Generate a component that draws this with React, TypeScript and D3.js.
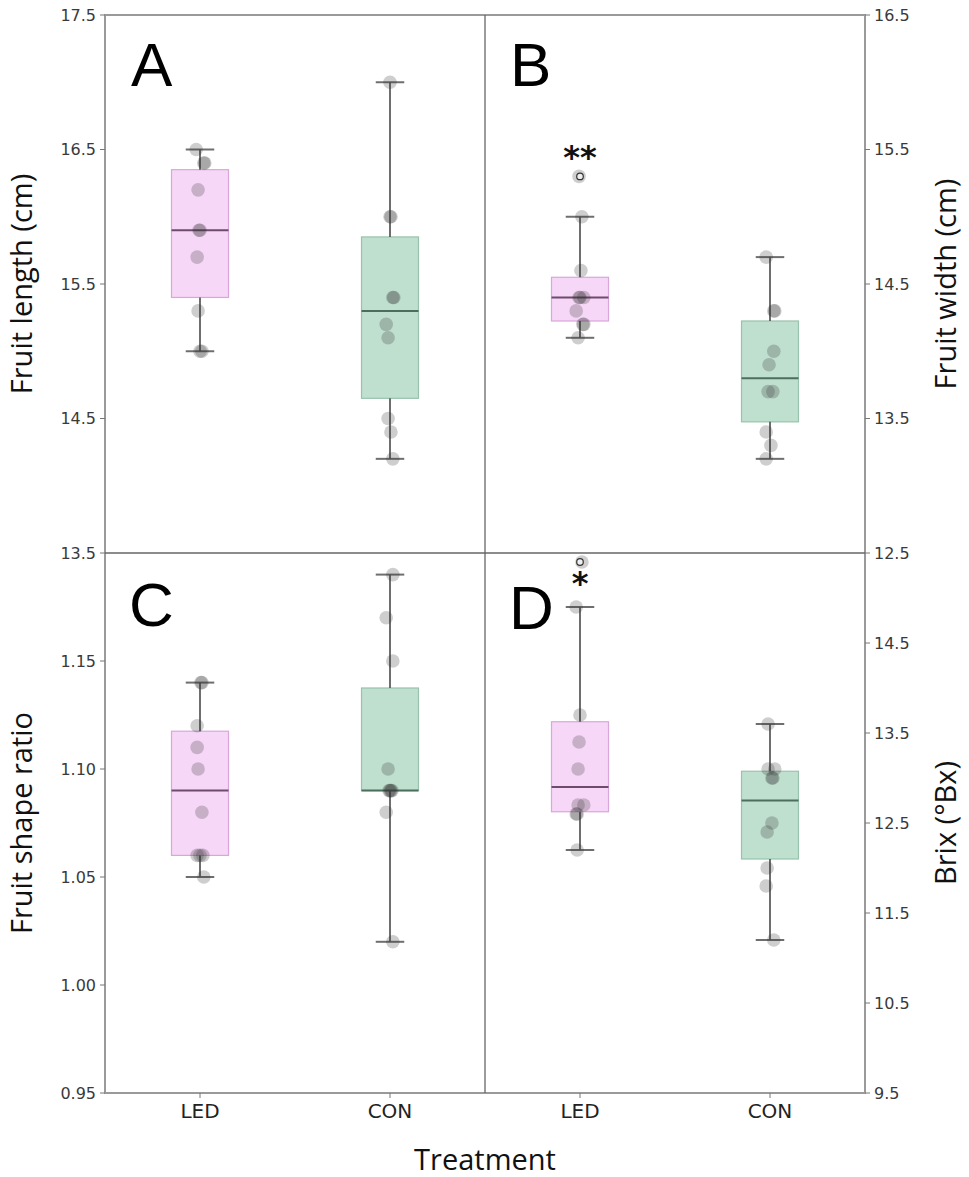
import React from "react";
import * as d3 from "d3";

// ---------- data ----------
const categories = ["LED", "CON"];

const lengthLED = [15.0, 15.0, 15.3, 15.7, 15.9, 15.9, 16.2, 16.4, 16.4, 16.5];
const lengthCON = [14.2, 14.4, 14.5, 15.1, 15.2, 15.4, 15.4, 16.0, 16.0, 17.0];
const widthLED = [14.1, 14.2, 14.2, 14.3, 14.4, 14.4, 14.4, 14.6, 15.0, 15.3];
const widthCON = [13.2, 13.3, 13.4, 13.7, 13.7, 13.9, 14.0, 14.3, 14.3, 14.7];
const shapeLED = [1.05, 1.06, 1.06, 1.06, 1.08, 1.10, 1.11, 1.12, 1.14, 1.14];
const shapeCON = [1.02, 1.08, 1.09, 1.09, 1.09, 1.09, 1.10, 1.15, 1.17, 1.19];
const brixLED = [12.2, 12.6, 12.6, 12.7, 12.7, 13.1, 13.4, 13.7, 14.9, 15.4];
const brixCON = [11.2, 11.8, 12.0, 12.4, 12.5, 13.0, 13.0, 13.1, 13.1, 13.6];

// strip-plot jitter (category units)
const jitLengthLED = [0, 0.01, -0.01, -0.015, 0, -0.005, -0.01, 0.02, 0.025, -0.02];
const jitLengthCON = [0.015, 0.005, -0.01, -0.01, -0.02, 0.015, 0.02, 0, 0.005, 0];
const jitWidthLED = [-0.01, 0.015, 0.02, -0.02, 0, 0.02, -0.005, 0.005, 0.01, -0.005];
const jitWidthCON = [-0.02, 0.005, -0.02, -0.01, 0.015, -0.005, 0.02, 0.02, 0.025, -0.02];
const jitShapeLED = [0.02, -0.015, 0, 0.015, 0.01, -0.01, -0.015, -0.015, 0.005, 0.01];
const jitShapeCON = [0.015, -0.02, 0, 0.005, -0.005, 0.01, -0.01, 0.015, -0.02, 0.015];
const jitBrixLED = [-0.015, -0.02, -0.015, -0.01, 0.02, -0.01, -0.005, 0, -0.02, 0.01];
const jitBrixCON = [0.02, -0.02, -0.015, -0.015, 0.01, 0.01, 0.015, -0.01, 0.025, -0.01];

const ticksLength = [13.5, 14.5, 15.5, 16.5, 17.5];
const ticksWidth = [12.5, 13.5, 14.5, 15.5, 16.5];
const ticksShape = [0.95, 1.0, 1.05, 1.1, 1.15, 1.2];
const ticksBrix = [9.5, 10.5, 11.5, 12.5, 13.5, 14.5, 15.5];

const panelLetters = ["A", "B", "C", "D"];
const signifB = "**";
const signifD = "*";

// ---------- layout ----------
const W = 969;
const H = 1177;
const L = 105, R = 865, MX = 485, T = 15, MY = 553, B = 1093;

const fills = ["#f7d7f7", "#bfdfcf"];
const edges = ["#d9a6d9", "#98c2ad"];
const medians = ["#6e4a6e", "#4d6e5e"];

type Stats = { q1: number; med: number; q3: number; lo: number; hi: number; fliers: number[] };
function stats(v: number[]): Stats {
  const s = [...v].sort((a, b) => a - b);
  const q1 = d3.quantile(s, 0.25)!;
  const med = d3.quantile(s, 0.5)!;
  const q3 = d3.quantile(s, 0.75)!;
  const iqr = q3 - q1;
  const inside = s.filter((d) => d >= q1 - 1.5 * iqr - 1e-9 && d <= q3 + 1.5 * iqr + 1e-9);
  return {
    q1, med, q3,
    lo: d3.min(inside)!, hi: d3.max(inside)!,
    fliers: s.filter((d) => !inside.includes(d)),
  };
}

type PanelProps = {
  x: d3.ScaleLinear<number, number>;
  y: d3.ScaleLinear<number, number>;
  series: number[][];
  jitters: number[][];
};

function Panel({ x, y, series, jitters }: PanelProps) {
  const bw = 0.3, cw = 0.15;
  return (
    <g>
      {series.map((vals, i) => {
        const st = stats(vals);
        const cx = x(i);
        const bx0 = x(i - bw / 2), bx1 = x(i + bw / 2);
        const c0 = x(i - cw / 2), c1 = x(i + cw / 2);
        return (
          <g key={i}>
            <rect x={bx0} y={y(st.q3)} width={bx1 - bx0} height={y(st.q1) - y(st.q3)}
              fill={fills[i]} stroke={edges[i]} strokeWidth={1.2} />
            <line x1={cx} x2={cx} y1={y(st.q3)} y2={y(st.hi)} stroke="#555" strokeWidth={2} strokeOpacity={0.85} />
            <line x1={cx} x2={cx} y1={y(st.q1)} y2={y(st.lo)} stroke="#555" strokeWidth={2} strokeOpacity={0.85} />
            <line x1={c0} x2={c1} y1={y(st.hi)} y2={y(st.hi)} stroke="#555" strokeWidth={2} strokeOpacity={0.85} />
            <line x1={c0} x2={c1} y1={y(st.lo)} y2={y(st.lo)} stroke="#555" strokeWidth={2} strokeOpacity={0.85} />
            <line x1={bx0} x2={bx1} y1={y(st.med)} y2={y(st.med)} stroke={medians[i]} strokeWidth={2} />
            {vals.map((v, k) => (
              <circle key={k} cx={x(i + jitters[i][k])} cy={y(v)} r={6.8} fill="#333" fillOpacity={0.24} />
            ))}
            {st.fliers.map((v, k) => (
              <circle key={"f" + k} cx={cx} cy={y(v)} r={3.3} fill="#eee" stroke="#333" strokeWidth={1.2} />
            ))}
          </g>
        );
      })}
    </g>
  );
}

export default function App() {
  const xL = d3.scaleLinear().domain([-0.5, 1.5]).range([L, MX]);
  const xR = d3.scaleLinear().domain([-0.5, 1.5]).range([MX, R]);
  const yA = d3.scaleLinear().domain([13.5, 17.5]).range([MY, T]);
  const yB = d3.scaleLinear().domain([12.5, 16.5]).range([MY, T]);
  const yC = d3.scaleLinear().domain([0.95, 1.2]).range([B, MY]);
  const yD = d3.scaleLinear().domain([9.5, 15.5]).range([B, MY]);

  const tickFont = { fontFamily: "DejaVu Sans", fontSize: 16, fill: "#3a3a3a" };
  const labelFont = { fontFamily: "Open Sans", fontSize: 29, fill: "#111" };
  const letterFont = { fontFamily: "Liberation Sans", fontSize: 62, fill: "#000" };

  const leftTicks = [
    ...ticksLength.map((t) => ({ y: yA(t), label: t.toFixed(1) })),
    ...ticksShape.filter((t) => t < 1.19).map((t) => ({ y: yC(t), label: t.toFixed(2) })),
  ];
  const rightTicks = [
    ...ticksWidth.map((t) => ({ y: yB(t), label: t.toFixed(1) })),
    ...ticksBrix.filter((t) => t < 15).map((t) => ({ y: yD(t), label: t.toFixed(1) })),
  ];
  const bLED = stats(widthLED);

  return (
    <svg width={W} height={H} style={{ display: "block", position: "absolute", left: 0, top: 0 }}>
      <rect x={0} y={0} width={W} height={H} fill="#fff" />
      <Panel x={xL} y={yA} series={[lengthLED, lengthCON]} jitters={[jitLengthLED, jitLengthCON]} />
      <Panel x={xR} y={yB} series={[widthLED, widthCON]} jitters={[jitWidthLED, jitWidthCON]} />
      <Panel x={xL} y={yC} series={[shapeLED, shapeCON]} jitters={[jitShapeLED, jitShapeCON]} />
      <Panel x={xR} y={yD} series={[brixLED, brixCON]} jitters={[jitBrixLED, jitBrixCON]} />

      {/* frame */}
      <rect x={L} y={T} width={R - L} height={B - T} fill="none" stroke="#9a9a9a" strokeWidth={2} />
      <line x1={MX} x2={MX} y1={T} y2={B} stroke="#666" strokeWidth={1.3} />
      <line x1={L} x2={R} y1={MY} y2={MY} stroke="#666" strokeWidth={1.3} />

      {/* y ticks */}
      {leftTicks.map((t, i) => (
        <g key={"l" + i}>
          <line x1={L - 5} x2={L} y1={t.y} y2={t.y} stroke="#777" strokeWidth={1} />
          <text x={L - 9} y={t.y} dy="0.35em" textAnchor="end" {...tickFont}>{t.label}</text>
        </g>
      ))}
      {rightTicks.map((t, i) => (
        <g key={"r" + i}>
          <line x1={R} x2={R + 5} y1={t.y} y2={t.y} stroke="#777" strokeWidth={1} />
          <text x={R + 9} y={t.y} dy="0.35em" textAnchor="start" {...tickFont}>{t.label}</text>
        </g>
      ))}
      {/* x ticks */}
      {[xL, xR].map((xs, j) =>
        categories.map((c, i) => (
          <g key={"x" + j + i}>
            <line x1={xs(i)} x2={xs(i)} y1={B} y2={B + 5} stroke="#777" strokeWidth={1} />
            <text x={xs(i)} y={B + 25} textAnchor="middle" fontFamily="DejaVu Sans" fontSize={20} fill="#222">{c}</text>
          </g>
        ))
      )}

      {/* panel letters */}
      <text x={131} y={86} {...letterFont}>{panelLetters[0]}</text>
      <text x={510} y={86} {...letterFont}>{panelLetters[1]}</text>
      <text x={129} y={626} {...letterFont}>{panelLetters[2]}</text>
      <text x={509} y={629} {...letterFont}>{panelLetters[3]}</text>

      {/* significance marks */}
      <text x={xR(0)} y={yB(bLED.fliers[0]) - 8} textAnchor="middle" fontFamily="DejaVu Sans" fontSize={32} fontWeight="bold" fill="#111">{signifB}</text>
      <text x={xR(0)} y={yD(d3.max(brixLED)!) + 32} textAnchor="middle" fontFamily="DejaVu Sans" fontSize={32} fontWeight="bold" fill="#111">{signifD}</text>

      {/* axis labels */}
      <text transform={`translate(32,${(T + MY) / 2}) rotate(-90)`} textAnchor="middle" {...labelFont}>Fruit length (cm)</text>
      <text transform={`translate(32,${(MY + B) / 2}) rotate(-90)`} textAnchor="middle" {...labelFont}>Fruit shape ratio</text>
      <text transform={`translate(956,${(T + MY) / 2}) rotate(-90)`} textAnchor="middle" {...labelFont}>Fruit width (cm)</text>
      <text transform={`translate(956,${(MY + B) / 2}) rotate(-90)`} textAnchor="middle" {...labelFont}>Brix (°Bx)</text>
      <text x={(L + R) / 2} y={1170} textAnchor="middle" {...labelFont}>Treatment</text>
    </svg>
  );
}
